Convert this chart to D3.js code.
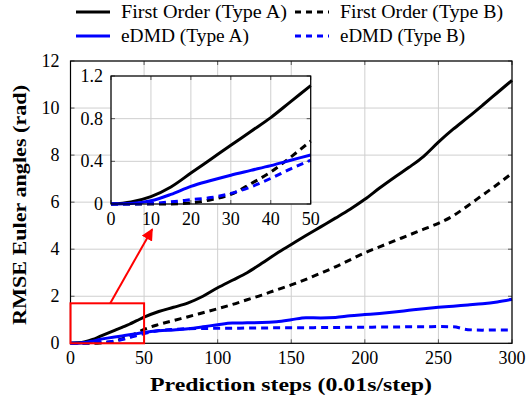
<!DOCTYPE html>
<html>
<head>
<meta charset="utf-8">
<script src="https://cdn.jsdelivr.net/npm/d3@7"></script>
<style>
body { margin: 0; background: #fff; }
text { font-family: "Liberation Serif", "DejaVu Serif", serif; fill: #000; }
</style>
</head>
<body>
<svg id="chart" width="527" height="401"></svg>
<script>
// prediction steps (x)
const steps = [0, 5, 10, 15, 20, 25, 30, 35, 40, 45, 50,
  60, 70, 80, 90, 100, 110, 120, 130, 140, 150, 160, 170, 180, 190, 200,
  210, 220, 230, 240, 250, 260, 270, 280, 290, 300];

const firstOrderA = [0, 0.02, 0.07, 0.16, 0.29, 0.42, 0.55, 0.68, 0.81, 0.96, 1.11,
  1.35, 1.53, 1.72, 2.0, 2.36, 2.68, 3.0, 3.4, 3.82, 4.2, 4.58, 4.95, 5.32, 5.7, 6.12,
  6.6, 7.05, 7.48, 7.95, 8.55, 9.1, 9.6, 10.12, 10.65, 11.18];
const firstOrderB = [0, 0, 0, 0, 0.01, 0.04, 0.09, 0.19, 0.3, 0.44, 0.59,
  0.8, 0.97, 1.13, 1.3, 1.47, 1.65, 1.85, 2.05, 2.27, 2.48, 2.72, 2.98, 3.25, 3.55, 3.85,
  4.1, 4.35, 4.6, 4.85, 5.1, 5.42, 5.85, 6.3, 6.75, 7.23];
const edmdA = [0, 0.005, 0.03, 0.09, 0.165, 0.22, 0.27, 0.315, 0.36, 0.41, 0.46,
  0.53, 0.57, 0.62, 0.7, 0.79, 0.86, 0.87, 0.88, 0.92, 1.0, 1.09, 1.08, 1.1, 1.17, 1.22,
  1.27, 1.33, 1.4, 1.47, 1.53, 1.58, 1.63, 1.68, 1.76, 1.87];
const edmdB = [0, 0, 0.005, 0.02, 0.04, 0.06, 0.1, 0.16, 0.24, 0.33, 0.41,
  0.54, 0.59, 0.62, 0.63, 0.64, 0.64, 0.65, 0.65, 0.66, 0.66, 0.66, 0.67, 0.67, 0.68, 0.68,
  0.69, 0.69, 0.7, 0.7, 0.71, 0.7, 0.58, 0.56, 0.57, 0.57];

const seriesNames = ['First Order (Type A)', 'First Order (Type B)', 'eDMD (Type A)', 'eDMD (Type B)'];
const seriesValues = [firstOrderA, firstOrderB, edmdA, edmdB];
const seriesColors = ['#000000', '#000000', '#0000ff', '#0000ff'];
const seriesDashed = [false, true, false, true];

const xTicks = [0, 50, 100, 150, 200, 250, 300];
const yTicks = [0, 2, 4, 6, 8, 10, 12];
const insetXTicks = [0, 10, 20, 30, 40, 50];
const insetYTicks = [0, 0.4, 0.8, 1.2];

// zoom box and arrow, in data units
const zoomBox = [0, 50, 0, 1.7];
const arrowFrom = [27, 1.7];
const arrowTo = [55.5, 4.85];

const svg = d3.select('#chart');

const x = d3.scaleLinear().domain([0, 300]).range([70.5, 512]);
const y = d3.scaleLinear().domain([0, 12]).range([343.3, 61]);

const series = seriesNames.map((name, i) => ({
  name, color: seriesColors[i], dashed: seriesDashed[i],
  points: steps.map((s, j) => [s, seriesValues[i][j]])
}));

function drawPanel(g, xs, ys, xt, yt, fmt, opts) {
  const [x0, x1] = xs.range();
  const [y0, y1] = ys.range();
  if (opts.bg) {
    g.append('rect').attr('x', x0).attr('y', y1).attr('width', x1 - x0).attr('height', y0 - y1)
      .attr('fill', '#fff');
  }
  // grid
  g.selectAll('.vg').data(xt).enter().append('line')
    .attr('x1', d => xs(d)).attr('x2', d => xs(d)).attr('y1', y0).attr('y2', y1)
    .attr('stroke', '#cfcfcf').attr('stroke-width', 1);
  g.selectAll('.hg').data(yt).enter().append('line')
    .attr('y1', d => ys(d)).attr('y2', d => ys(d)).attr('x1', x0).attr('x2', x1)
    .attr('stroke', '#cfcfcf').attr('stroke-width', 1);
  // inner ticks
  const tl = 4;
  xt.forEach(d => {
    g.append('line').attr('x1', xs(d)).attr('x2', xs(d)).attr('y1', y0).attr('y2', y0 - tl).attr('stroke', '#555');
    g.append('line').attr('x1', xs(d)).attr('x2', xs(d)).attr('y1', y1).attr('y2', y1 + tl).attr('stroke', '#555');
  });
  yt.forEach(d => {
    g.append('line').attr('y1', ys(d)).attr('y2', ys(d)).attr('x1', x0).attr('x2', x0 + tl).attr('stroke', '#555');
    g.append('line').attr('y1', ys(d)).attr('y2', ys(d)).attr('x1', x1).attr('x2', x1 - tl).attr('stroke', '#555');
  });
  // lines
  const line = d3.line().x(d => xs(d[0])).y(d => ys(d[1])).curve(d3.curveMonotoneX);
  series.forEach(s => {
    g.append('path')
      .datum(s.points.filter(p => p[0] <= xs.domain()[1]))
      .attr('d', line)
      .attr('fill', 'none')
      .attr('stroke', s.color)
      .attr('stroke-width', 3)
      .attr('stroke-dasharray', s.dashed ? '7,5' : null);
  });
  // frame
  g.append('rect').attr('x', x0).attr('y', y1).attr('width', x1 - x0).attr('height', y0 - y1)
    .attr('fill', 'none').attr('stroke', '#000').attr('stroke-width', 1.2);
  // tick labels
  g.selectAll('.xl').data(xt).enter().append('text')
    .attr('x', d => xs(d)).attr('y', y0 + opts.xlOff)
    .attr('text-anchor', 'middle').attr('font-size', 18).text(d => d);
  g.selectAll('.yl').data(yt).enter().append('text')
    .attr('x', x0 - opts.ylOff).attr('y', d => ys(d) + 6)
    .attr('text-anchor', 'end').attr('font-size', 18).text(fmt);
}

const main = svg.append('g');
drawPanel(main, x, y, xTicks, yTicks, d => d, { xlOff: 21, ylOff: 11 });

// zoom box + arrow
svg.append('rect')
  .attr('x', x(zoomBox[0])).attr('y', y(zoomBox[3]))
  .attr('width', x(zoomBox[1]) - x(zoomBox[0])).attr('height', y(zoomBox[2]) - y(zoomBox[3]))
  .attr('fill', 'none').attr('stroke', '#ff0000').attr('stroke-width', 2);

svg.append('defs').append('marker')
  .attr('id', 'ah').attr('viewBox', '0 0 10 10').attr('refX', 9).attr('refY', 5)
  .attr('markerWidth', 6).attr('markerHeight', 6).attr('markerUnits', 'strokeWidth')
  .attr('orient', 'auto')
  .append('path').attr('d', 'M0,0 L10,5 L0,10 z').attr('fill', '#ff0000');

svg.append('line')
  .attr('x1', x(arrowFrom[0])).attr('y1', y(arrowFrom[1]))
  .attr('x2', x(arrowTo[0])).attr('y2', y(arrowTo[1]))
  .attr('stroke', '#ff0000').attr('stroke-width', 2).attr('marker-end', 'url(#ah)');

// inset
const ix = d3.scaleLinear().domain([0, 50]).range([111, 310.7]);
const iy = d3.scaleLinear().domain([0, 1.2]).range([204, 76]);
const inset = svg.append('g');
drawPanel(inset, ix, iy, insetXTicks, insetYTicks, d => d === 0 ? '0' : d.toFixed(1), { xlOff: 21, ylOff: 8, bg: true });

// axis titles
svg.append('text')
  .attr('x', 291).attr('y', 391)
  .attr('text-anchor', 'middle').attr('font-size', 18).attr('font-weight', 'bold')
  .attr('textLength', 282).attr('lengthAdjust', 'spacingAndGlyphs')
  .text('Prediction steps (0.01s/step)');
svg.append('text')
  .attr('transform', 'translate(26,205) rotate(-90)')
  .attr('text-anchor', 'middle').attr('font-size', 18).attr('font-weight', 'bold')
  .attr('textLength', 240).attr('lengthAdjust', 'spacingAndGlyphs')
  .text('RMSE Euler angles (rad)');

// legend
const legX = [76, 295, 76, 295];
const legY = [12, 12, 36, 36];
const legW = [166, 163, 128, 125];
series.forEach((s, i) => {
  svg.append('line')
    .attr('x1', legX[i]).attr('x2', legX[i] + 34).attr('y1', legY[i]).attr('y2', legY[i])
    .attr('stroke', s.color).attr('stroke-width', 3)
    .attr('stroke-dasharray', s.dashed ? '6,5' : null);
  svg.append('text')
    .attr('x', legX[i] + 45).attr('y', legY[i] + 5.5)
    .attr('font-size', 18)
    .attr('textLength', legW[i]).attr('lengthAdjust', 'spacingAndGlyphs')
    .text(s.name);
});
</script>
</body>
</html>
